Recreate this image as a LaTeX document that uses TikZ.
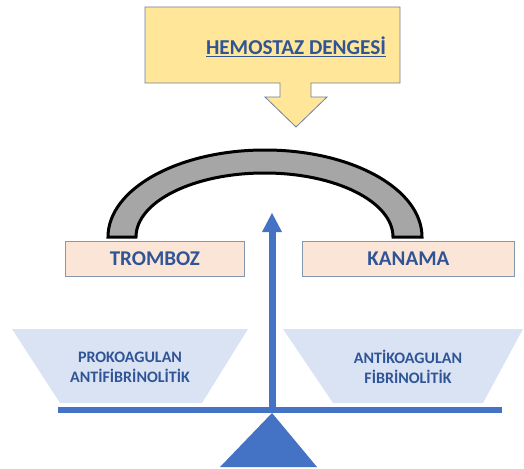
\documentclass[tikz,border=0pt]{standalone}
\usepackage{fontspec}
\setmainfont{Carlito}
\definecolor{calloutfill}{HTML}{FFE699}
\definecolor{calloutline}{HTML}{6F7FA0}
\definecolor{boxfill}{HTML}{FBE5D6}
\definecolor{boxline}{HTML}{8497B0}
\definecolor{panfill}{HTML}{DAE3F3}
\definecolor{ink}{HTML}{2F5597}
\definecolor{beam}{HTML}{4472C4}
\definecolor{archfill}{HTML}{A6A6A6}
\tikzset{
  x=1pt, y=-1pt,
  label text/.style={text=ink, font=\bfseries, align=center},
  sidebox/.style={draw=boxline, line width=0.8pt, fill=boxfill, minimum width=179pt,
    minimum height=35pt, anchor=north west, inner sep=0pt, label text, font=\bfseries\fontsize{21}{24}\selectfont},
  pan/.style={fill=panfill, draw=none},
}
\begin{document}
\begin{tikzpicture}
\useasboundingbox (0,0) rectangle (524,468);
% callout with downward arrow
\draw[fill=calloutfill, draw=calloutline, line width=0.8pt]
  (145,7) -- (400,7) -- (400,83) -- (311,83) -- (311,97) -- (327,97)
  -- (296,127) -- (265,97) -- (280,97) -- (280,83) -- (145,83) -- cycle;
\node[label text, font=\bfseries\fontsize{21.2}{26}\selectfont] (title) at (296,47) {\underline{HEMOSTAZ DENGESİ}};
% arch over the two sides
\draw[fill=archfill, draw=black, line width=3pt]
  (108,237) arc[start angle=180, end angle=0, x radius=157, y radius=-87]
  -- (393,237) arc[start angle=0, end angle=180, x radius=128.5, y radius=-64] -- cycle;
% the two sides
\node[sidebox] (tromboz) at (65,241) {TROMBOZ};
\node[sidebox, minimum width=212pt] (kanama) at (302,241) {KANAMA};
% pans
\fill[pan] (12,329) -- (248,329) -- (202,403) -- (60,403) -- cycle;
\fill[pan] (283,329) -- (523,329) -- (483,403) -- (333,403) -- cycle;
\node[label text, font=\bfseries\fontsize{16}{20}\selectfont] (pro) at (130,367) {PROKOAGULAN\\ANTİFİBRİNOLİTİK};
\node[label text, font=\bfseries\fontsize{16}{20}\selectfont] (anti) at (408,367) {ANTİKOAGULAN\\FİBRİNOLİTİK};
% beam and fulcrum
\fill[beam] (58,407) rectangle (502,413);
\coordinate (pivot) at (272,410);
\coordinate (tip) at (272,213);
\fill[beam] (272,413) -- (317,467) -- (220,467) -- cycle;
\draw[beam, line width=7pt] (pivot) -- (272,230);
\fill[beam] (tip) -- (282,232) -- (262,232) -- cycle;
\end{tikzpicture}
\end{document}
